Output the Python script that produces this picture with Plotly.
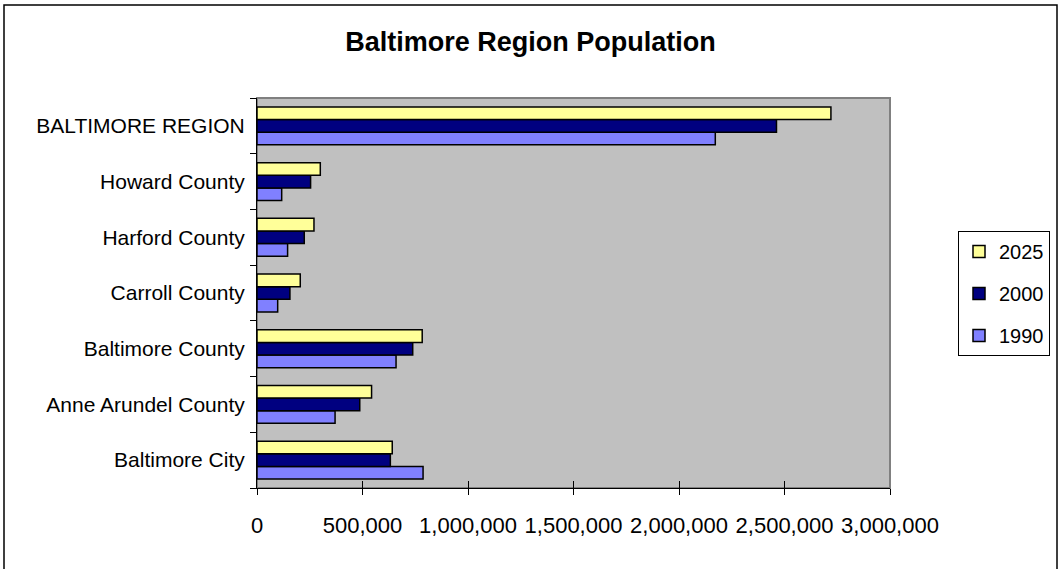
import plotly.graph_objects as go

# Regions, listed bottom to top as they appear on the category axis
regions = [
    "Baltimore City",
    "Anne Arundel County",
    "Baltimore County",
    "Carroll County",
    "Harford County",
    "Howard County",
    "BALTIMORE REGION",
]

# Population by year
pop_1990 = [787000, 370000, 659000, 98000, 145000, 117000, 2172000]
pop_2000 = [632000, 487000, 738000, 156000, 224000, 254000, 2462000]
pop_2025 = [641000, 543000, 783000, 205000, 270000, 300000, 2720000]

x_ticks = [0, 500000, 1000000, 1500000, 2000000, 2500000, 3000000]

# (name, values, colour, legend rank)
series = [
    ("1990", pop_1990, "#8080FF", 3),
    ("2000", pop_2000, "#000080", 2),
    ("2025", pop_2025, "#FFFF99", 1),
]

FONT = "Liberation Sans, Arial, sans-serif"

fig = go.Figure()
for name, vals, color, rank in series:
    fig.add_trace(go.Bar(
        y=regions,
        x=vals,
        name=name,
        orientation="h",
        marker=dict(color=color, line=dict(color="black", width=1.5)),
        legendgroup=name,
        legendrank=rank,
    ))

W, H = 1061, 569
L, R, T, B = 257, 171, 98, 81
pw, ph = W - L - R, H - T - B

def px_x(p):
    return (p - L) / pw

def px_y(p):
    return (H - B - p) / ph

fig.update_layout(
    width=W,
    height=H,
    margin=dict(l=L, r=R, t=T, b=B, autoexpand=False),
    paper_bgcolor="white",
    plot_bgcolor="#C0C0C0",
    barmode="group",
    bargap=0.32,
    bargroupgap=0,
    font=dict(family=FONT, size=21, color="black"),
    title=dict(
        text="<b>Baltimore Region Population</b>",
        font=dict(family=FONT, size=27, color="black"),
        x=0.5,
        xref="container",
        xanchor="center",
        y=1 - 42 / H,
        yref="container",
        yanchor="middle",
    ),
    xaxis=dict(
        range=[0, 3000000],
        tickvals=x_ticks,
        tickformat=",d",
        ticks="outside",
        ticklen=6,
        tickcolor="black",
        showline=True,
        linecolor="black",
        linewidth=1,
        showgrid=False,
        zeroline=False,
        fixedrange=True,
        tickfont=dict(family=FONT, size=22),
        ticklabelstandoff=12,
        automargin=False,
    ),
    xaxis2=dict(
        overlaying="x",
        matches="x",
        side="bottom",
        range=[0, 3000000],
        tickvals=x_ticks,
        ticks="inside",
        ticklen=7,
        tickcolor="black",
        showticklabels=False,
        showline=False,
        showgrid=False,
        zeroline=False,
        automargin=False,
    ),
    yaxis=dict(
        type="category",
        categoryorder="array",
        categoryarray=regions,
        ticks="outside",
        tickson="boundaries",
        ticklen=6,
        tickcolor="black",
        showline=True,
        linecolor="black",
        linewidth=1,
        showgrid=False,
        zeroline=False,
        fixedrange=True,
        tickfont=dict(family=FONT, size=21),
        ticklabelstandoff=7,
        automargin=False,
    ),
    legend=dict(
        x=px_x(958),
        xanchor="left",
        y=px_y(231),
        yanchor="top",
        traceorder="grouped",
        tracegroupgap=13,
        bordercolor="black",
        borderwidth=1,
        bgcolor="white",
        font=dict(family=FONT, size=20),
    ),
    showlegend=True,
    shapes=[
        # gray frame around the plotting area
        dict(type="rect", xref="paper", yref="paper", x0=0, y0=0, x1=1, y1=1,
             line=dict(color="#808080", width=2), layer="below"),
        # outer chart border
        dict(type="rect", xref="paper", yref="paper",
             x0=px_x(4), x1=px_x(1057), y0=px_y(572), y1=px_y(5),
             line=dict(color="black", width=1.5), fillcolor="rgba(0,0,0,0)"),
    ],
)

# invisible trace so the crossing tick axis is drawn
fig.add_trace(go.Scatter(x=[0], y=[regions[0]], xaxis="x2", mode="markers",
                         marker=dict(opacity=0), showlegend=False, hoverinfo="skip"))

fig.write_html("out.html")
